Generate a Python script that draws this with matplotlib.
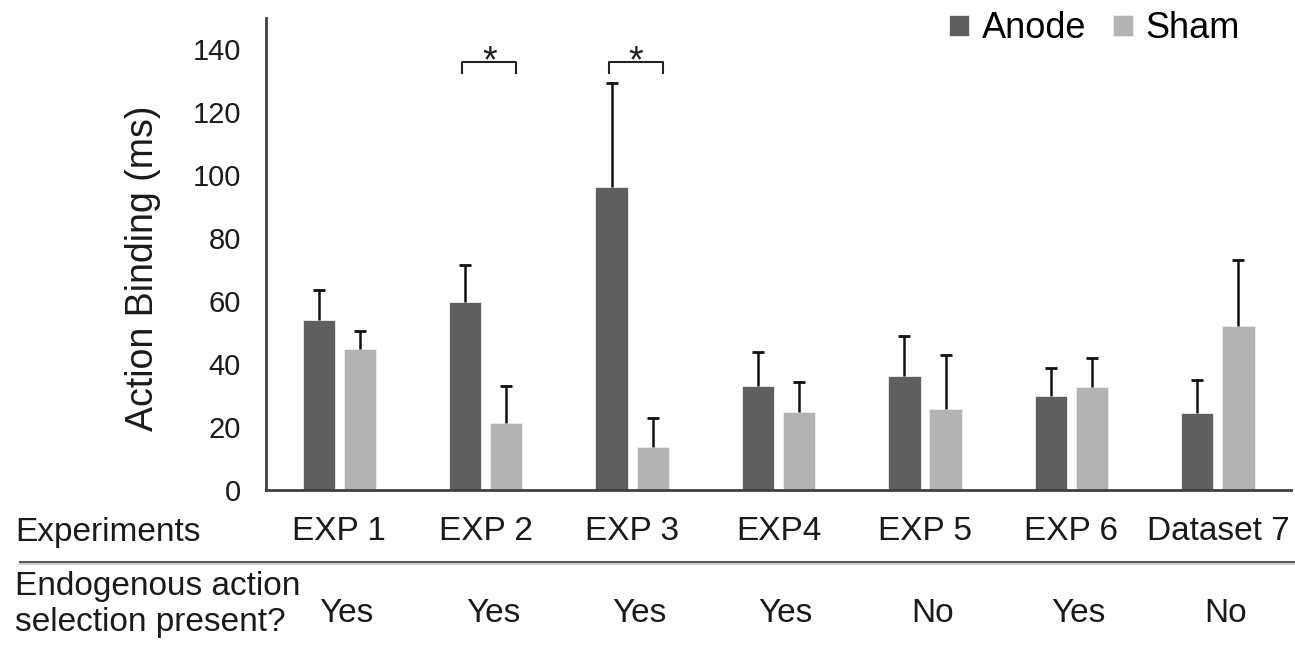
import matplotlib.pyplot as plt
import matplotlib.transforms as mtransforms
from matplotlib.lines import Line2D
import numpy as np

plt.rcParams['font.family'] = ['Liberation Sans', 'DejaVu Sans']

experiments = ['EXP 1', 'EXP 2', 'EXP 3', 'EXP4', 'EXP 5', 'EXP 6', 'Dataset 7']
endogenous = ['Yes', 'Yes', 'Yes', 'Yes', 'No', 'Yes', 'No']
anode = [53.9, 59.7, 96.4, 32.9, 36.3, 29.9, 24.6]
anode_err = [9.6, 11.9, 33.1, 11.1, 12.8, 8.9, 10.3]
sham = [44.8, 21.3, 13.8, 24.7, 25.8, 32.8, 52.2]
sham_err = [5.6, 11.8, 9.0, 9.6, 17.1, 9.0, 21.0]
significant = [1, 2]  # EXP 2 and EXP 3

anode_color = '#5f5f5f'
sham_color = '#b3b3b3'

fig = plt.figure(figsize=(12.95, 6.45), dpi=100)
ax = fig.add_axes([0.2054, 0.2403, 0.7916, 0.7318])

x = np.arange(len(experiments))
w = 0.22
off = 0.14
ax.bar(x - off, anode, w, color=anode_color, edgecolor='#eeeeee', linewidth=0.6,
       label='Anode', zorder=2)
ax.bar(x + off, sham, w, color=sham_color, edgecolor='#eeeeee', linewidth=0.6,
       label='Sham', zorder=2)
for xs, vals, errs in [(x - off, anode, anode_err), (x + off, sham, sham_err)]:
    eb = ax.errorbar(xs, vals, yerr=[np.zeros(len(x)), errs], fmt='none',
                     ecolor='#111111', elinewidth=1.8, capsize=4.5, capthick=2,
                     zorder=3)
    # only the upper cap is shown
    eb[1][0].set_visible(False)

# significance brackets
for i in significant:
    x0, x1 = i - 0.16, i + 0.21
    ax.plot([x0, x0, x1, x1], [132.4, 135.9, 135.9, 132.4], color='#222222', lw=1.5,
            clip_on=False)
    ax.text((x0 + x1) / 2, 136.0, '*', ha='center', va='center', fontsize=27,
            color='#222222')

ax.set_xlim(-0.5, 6.5)
ax.set_ylim(0, 150)
ax.set_yticks(np.arange(0, 141, 20))
ax.tick_params(axis='y', length=0, pad=18, labelsize=21, labelcolor='#1a1a1a')
ax.set_xticks([])
for s in ['top', 'right']:
    ax.spines[s].set_visible(False)
for s in ['left', 'bottom']:
    ax.spines[s].set_color('#404040')
    ax.spines[s].set_linewidth(2)

fig.text(143 / 1295, 1 - 268 / 645, 'Action Binding (ms)', rotation=90,
         ha='center', va='center', fontsize=27, color='#1a1a1a')

ax.legend(ncol=2, loc='upper right', bbox_to_anchor=(0.964, 1.045), frameon=False,
          fontsize=26, handlelength=0.55, handleheight=0.55, handletextpad=0.35,
          columnspacing=0.75, borderaxespad=0)

# table rows under the axis
trans = mtransforms.blended_transform_factory(ax.transData, fig.transFigure)
fs = 24
fig.text(15 / 1295, 1 - 532 / 645, 'Experiments', ha='left', va='center',
         fontsize=fs, color='#1a1a1a')
for xi, lab in zip(x, experiments):
    ax.text(xi, 1 - 532 / 645, lab, transform=trans, ha='center', va='center',
            fontsize=fs, color='#1a1a1a')

fig.add_artist(Line2D([20 / 1295, 1.0], [1 - 562 / 645] * 2, color='#5a5a5a', lw=1.5))
fig.add_artist(Line2D([20 / 1295, 1.0], [1 - 564 / 645] * 2, color='#c8c8c8', lw=1.2))

fig.text(15 / 1295, 1 - 587 / 645, 'Endogenous action', ha='left', va='center',
         fontsize=fs, color='#1a1a1a')
fig.text(15 / 1295, 1 - 623 / 645, 'selection present?', ha='left', va='center',
         fontsize=fs, color='#1a1a1a')
for xi, lab in zip(x, endogenous):
    ax.text(xi + 0.05, 1 - 614 / 645, lab, transform=trans, ha='center', va='center',
            fontsize=fs, color='#1a1a1a')

fig.savefig('out.png', dpi=100)
